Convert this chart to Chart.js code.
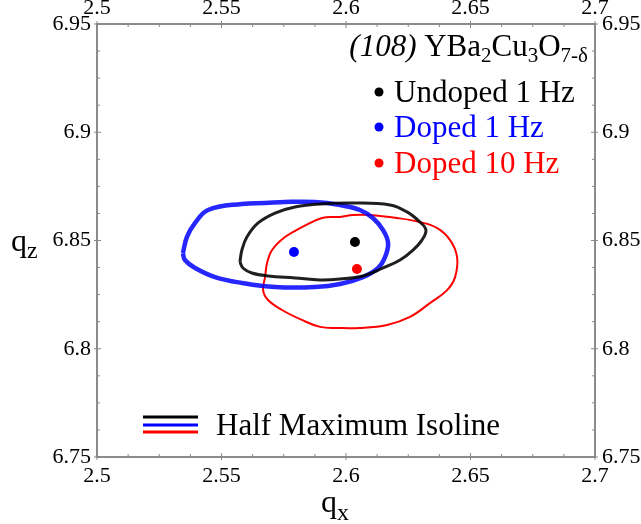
<!DOCTYPE html>
<html>
<head>
<meta charset="utf-8">
<script src="https://cdn.jsdelivr.net/npm/chart.js@4"></script>
<style>
  html, body { margin: 0; padding: 0; background: #fff; }
  #wrap { width: 641px; height: 524px; position: relative; }
</style>
</head>
<body>
<div id="wrap"><canvas id="c" width="641" height="524"></canvas></div>
<script>
// ---- data ----
const seriesLabels = ['Undoped 1 Hz', 'Doped 1 Hz', 'Doped 10 Hz'];
const seriesColors = ['#000000', '#0000ff', '#ff0000'];
const centerX = [2.6036, 2.5791, 2.6044];
const centerY = [6.8493, 6.8447, 6.8368];

const undopedX = [2.5574, 2.5582, 2.5602, 2.5647, 2.5715, 2.5795, 2.5896, 2.6028, 2.6177, 2.6245, 2.6297, 2.6321, 2.6305, 2.6269, 2.6217, 2.6149, 2.6068, 2.5976, 2.5896, 2.5795, 2.5687, 2.5622, 2.5586, 2.5574];
const undopedY = [6.8401, 6.8456, 6.8516, 6.8581, 6.8627, 6.8655, 6.8669, 6.8673, 6.8664, 6.8632, 6.8585, 6.8548, 6.8502, 6.8456, 6.8410, 6.8373, 6.8336, 6.8322, 6.8318, 6.8327, 6.8336, 6.8350, 6.8373, 6.8401];

const doped1X = [2.5345, 2.5361, 2.5394, 2.5446, 2.5582, 2.5675, 2.5755, 2.5876, 2.5976, 2.6056, 2.6108, 2.6149, 2.6169, 2.6157, 2.6129, 2.6068, 2.5976, 2.5876, 2.5715, 2.5582, 2.5474, 2.5394, 2.5353, 2.5345];
const doped1Y = [6.8442, 6.8516, 6.8581, 6.8641, 6.8669, 6.8673, 6.8678, 6.8678, 6.8664, 6.8641, 6.8604, 6.8548, 6.8488, 6.8424, 6.8373, 6.8331, 6.8299, 6.8285, 6.8285, 6.8304, 6.8331, 6.8373, 6.8410, 6.8442];

const doped10X = [2.5823, 2.5904, 2.5976, 2.6028, 2.6096, 2.6205, 2.6297, 2.6365, 2.6418, 2.6446, 2.6438, 2.6406, 2.6337, 2.6257, 2.6165, 2.6056, 2.5964, 2.5896, 2.5823, 2.5743, 2.5687, 2.5667, 2.5675, 2.5683, 2.5703, 2.5755, 2.5823];
const doped10Y = [6.8562, 6.8604, 6.8609, 6.8618, 6.8618, 6.8604, 6.8585, 6.8558, 6.8502, 6.8424, 6.8331, 6.8271, 6.8211, 6.8147, 6.8110, 6.8096, 6.8096, 6.8101, 6.8133, 6.8179, 6.8225, 6.8271, 6.8331, 6.8396, 6.8456, 6.8516, 6.8562];

const xTickValues = [2.5, 2.55, 2.6, 2.65, 2.7];
const xTickLabels = ['2.5', '2.55', '2.6', '2.65', '2.7'];
const yTickValues = [6.75, 6.8, 6.85, 6.9, 6.95];
const yTickLabels = ['6.75', '6.8', '6.85', '6.9', '6.95'];
const minorDiv = 4;

const isolineLabel = 'Half Maximum Isoline';
const titleParts = [
  { t: '(108)', style: 'italic' },
  { t: ' YBa' }, { t: '2', sub: true }, { t: 'Cu' }, { t: '3', sub: true },
  { t: 'O' }, { t: '7-\u03B4', sub: true }
];

const FONT = "'Liberation Serif', 'DejaVu Serif', serif";
const zip = (xs, ys) => xs.map((x, i) => ({ x: x, y: ys[i] }));

const contourStyle = [
  { w: 3, c: 'rgba(0,0,0,0.88)' },
  { w: 4.5, c: 'rgba(0,0,255,0.85)' },
  { w: 2, c: '#ff0000' }
];
const contours = [zip(undopedX, undopedY), zip(doped1X, doped1Y), zip(doped10X, doped10Y)];

const datasets = [];
contours.forEach((pts, i) => {
  datasets.push({
    label: seriesLabels[i] + ' isoline',
    data: pts, showLine: true, fill: false,
    borderColor: contourStyle[i].c, borderWidth: contourStyle[i].w,
    pointRadius: 0, tension: 0.4, xAxisID: 'x', yAxisID: 'y'
  });
});
seriesLabels.forEach((lab, i) => {
  datasets.push({
    label: lab, data: [{ x: centerX[i], y: centerY[i] }],
    backgroundColor: seriesColors[i], borderColor: seriesColors[i],
    pointRadius: 5, pointBorderWidth: 0, showLine: false, xAxisID: 'x', yAxisID: 'y'
  });
});

function axisCfg(min, max, vals, labels, pos, size, pad) {
  const horiz = (pos === 'top' || pos === 'bottom');
  return {
    type: 'linear', position: pos, min: min, max: max,
    afterBuildTicks: (s) => { s.ticks = vals.map(v => ({ value: v })); },
    afterFit: (s) => { if (horiz) s.height = size; else s.width = size; },
    ticks: {
      callback: (v, i) => labels[i], autoSkip: false, maxRotation: 0,
      color: '#000', font: { family: FONT, size: 22 }, padding: pad
    },
    grid: { display: false }, border: { display: false }
  };
}

const framePlugin = {
  id: 'frame',
  afterDatasetsDraw(chart) {
    const ctx = chart.ctx, a = chart.chartArea;
    const sx = chart.scales.x, sy = chart.scales.y;
    ctx.save();
    ctx.strokeStyle = '#666';
    ctx.lineWidth = 1.5;
    ctx.strokeRect(a.left, a.top, a.right - a.left, a.bottom - a.top);
    ctx.lineWidth = 1;
    ctx.strokeStyle = '#888';
    for (let k = 0; k < xTickValues.length; k++) {
      const v0 = xTickValues[k];
      const px = sx.getPixelForValue(v0);
      ctx.beginPath();
      ctx.moveTo(px, a.bottom + 3); ctx.lineTo(px, a.bottom - 4);
      ctx.moveTo(px, a.top - 3); ctx.lineTo(px, a.top + 4);
      ctx.stroke();
      if (k < xTickValues.length - 1) {
        const step = (xTickValues[k + 1] - v0) / minorDiv;
        for (let m = 1; m < minorDiv; m++) {
          const p = sx.getPixelForValue(v0 + m * step);
          ctx.beginPath();
          ctx.moveTo(p, a.bottom); ctx.lineTo(p, a.bottom - 3);
          ctx.moveTo(p, a.top); ctx.lineTo(p, a.top + 3);
          ctx.stroke();
        }
      }
    }
    for (let k = 0; k < yTickValues.length; k++) {
      const v0 = yTickValues[k];
      const py = sy.getPixelForValue(v0);
      ctx.beginPath();
      ctx.moveTo(a.left - 3, py); ctx.lineTo(a.left + 4, py);
      ctx.moveTo(a.right + 3, py); ctx.lineTo(a.right - 4, py);
      ctx.stroke();
      if (k < yTickValues.length - 1) {
        const step = (yTickValues[k + 1] - v0) / minorDiv;
        for (let m = 1; m < minorDiv; m++) {
          const p = sy.getPixelForValue(v0 + m * step);
          ctx.beginPath();
          ctx.moveTo(a.left, p); ctx.lineTo(a.left + 3, p);
          ctx.moveTo(a.right, p); ctx.lineTo(a.right - 3, p);
          ctx.stroke();
        }
      }
    }
    ctx.restore();
  },
  afterDraw(chart) {
    const ctx = chart.ctx;
    ctx.save();
    ctx.textBaseline = 'alphabetic';
    ctx.fillStyle = '#000';
    ctx.font = '32px ' + FONT;
    ctx.fillText('q', 321, 512);
    let w = ctx.measureText('q').width;
    ctx.font = '24px ' + FONT;
    ctx.fillText('x', 321 + w, 520);
    ctx.font = '32px ' + FONT;
    ctx.fillText('q', 11, 251);
    w = ctx.measureText('q').width;
    ctx.font = '24px ' + FONT;
    ctx.fillText('z', 11 + w, 258);

    // title
    const mainF = '31px ' + FONT, subF = '21px ' + FONT;
    let total = 0;
    titleParts.forEach(p => {
      ctx.font = (p.style === 'italic' ? 'italic ' : '') + (p.sub ? subF : mainF);
      total += ctx.measureText(p.t).width;
    });
    let x = 588 - total;
    titleParts.forEach(p => {
      ctx.font = (p.style === 'italic' ? 'italic ' : '') + (p.sub ? subF : mainF);
      ctx.fillText(p.t, x, p.sub ? 62 : 56);
      x += ctx.measureText(p.t).width;
    });

    // point legend
    const ly = [92, 127, 163];
    ctx.font = '31px ' + FONT;
    ctx.textBaseline = 'middle';
    seriesLabels.forEach((lab, i) => {
      ctx.fillStyle = seriesColors[i];
      ctx.beginPath(); ctx.arc(379, ly[i], 4.5, 0, Math.PI * 2); ctx.fill();
      ctx.fillText(lab, 394, ly[i] + 2);
    });

    // isoline legend
    const lineY = [417, 425, 432];
    seriesColors.forEach((c, i) => {
      ctx.strokeStyle = c; ctx.lineWidth = 3;
      ctx.beginPath(); ctx.moveTo(143, lineY[i]); ctx.lineTo(198, lineY[i]); ctx.stroke();
    });
    ctx.fillStyle = '#000';
    ctx.font = '31px ' + FONT;
    ctx.fillText(isolineLabel, 216, 427);
    ctx.restore();
  }
};

new Chart(document.getElementById('c'), {
  type: 'scatter',
  data: { datasets: datasets },
  options: {
    responsive: false, animation: false,
    layout: { padding: 0 },
    plugins: { legend: { display: false }, tooltip: { enabled: false } },
    scales: {
      x: axisCfg(2.5, 2.7, xTickValues, xTickLabels, 'bottom', 67, -2),
      x2: axisCfg(2.5, 2.7, xTickValues, xTickLabels, 'top', 24, -5),
      y: axisCfg(6.75, 6.95, yTickValues, yTickLabels, 'left', 97, -2),
      y2: axisCfg(6.75, 6.95, yTickValues, yTickLabels, 'right', 46, -1)
    }
  },
  plugins: [framePlugin]
});
</script>
</body>
</html>
